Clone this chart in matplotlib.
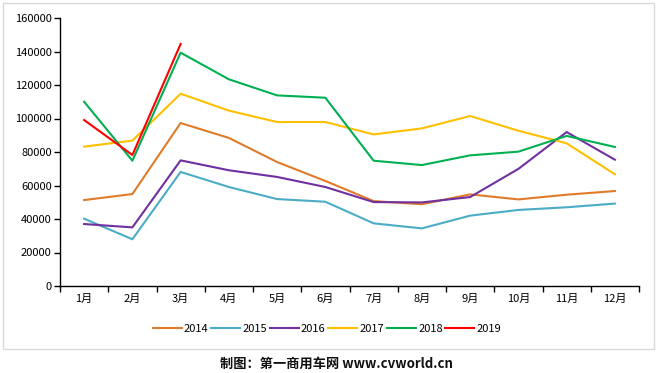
import matplotlib.pyplot as plt
from matplotlib.patches import Rectangle

plt.rcParams['font.family'] = ['Noto Sans CJK SC', 'DejaVu Sans']

months = ['1月', '2月', '3月', '4月', '5月', '6月', '7月', '8月', '9月', '10月', '11月', '12月']
years = ['2014', '2015', '2016', '2017', '2018', '2019']

sales_2014 = [51300, 54900, 97300, 88400, 74000, 62700, 50700, 48800, 54700, 51700, 54500, 56700]
sales_2015 = [40200, 27900, 68100, 59100, 51900, 50300, 37400, 34400, 42000, 45400, 47000, 49200]
sales_2016 = [37000, 35000, 75000, 69100, 65100, 59100, 50100, 49900, 53100, 69900, 91900, 75400]
sales_2017 = [83200, 86800, 114800, 104700, 97900, 97900, 90500, 94100, 101500, 92700, 85200, 66700]
sales_2018 = [110000, 74800, 139300, 123400, 113800, 112400, 74800, 72200, 78000, 80200, 89600, 83000]
sales_2019 = [99100, 78200, 144500]

series = [sales_2014, sales_2015, sales_2016, sales_2017, sales_2018, sales_2019]
colors = ['#E07B2A', '#4BACC6', '#7030A0', '#FFC000', '#00B050', '#FF0000']

fig = plt.figure(figsize=(6.57, 3.73), dpi=100)
ax = fig.add_axes([60 / 657, 87 / 373, 579 / 657, 268 / 373])

for name, vals, c in zip(years, series, colors):
    ax.plot(range(len(vals)), vals, color=c, lw=1.5, label=name)

ax.set_xlim(-0.5, 11.5)
ax.set_ylim(0, 160000)
ax.set_yticks(range(0, 160001, 20000))
ax.tick_params(axis='y', labelsize=8, length=4, width=1, pad=2)
ax.set_xticks(range(12))
ax.set_xticklabels(months, fontsize=8)
ax.tick_params(axis='x', length=0, pad=6)
ax.set_xticks([i - 0.5 for i in range(13)], minor=True)
ax.tick_params(axis='x', which='minor', length=4, width=1)
for s in ['top', 'right']:
    ax.spines[s].set_visible(False)
for s in ['left', 'bottom']:
    ax.spines[s].set_linewidth(1)

ax.legend(loc='center', bbox_to_anchor=(327 / 657, 1 - 329 / 373), bbox_transform=fig.transFigure,
          ncol=6, frameon=False, fontsize=8, handlelength=2.6, handletextpad=0.2, columnspacing=0.25)

fig.patches.append(Rectangle((2.5 / 657, 1 - 348.5 / 373), 651.5 / 657, 345.5 / 373,
                             transform=fig.transFigure, fill=False, ec='#D9D9D9', lw=1))

fig.text(336 / 657, 1 - 364 / 373, '制图：第一商用车网 www.cvworld.cn', ha='center', va='center',
         fontsize=9.5, fontweight='bold', color='#111111')

fig.savefig('out.png', dpi=100)
